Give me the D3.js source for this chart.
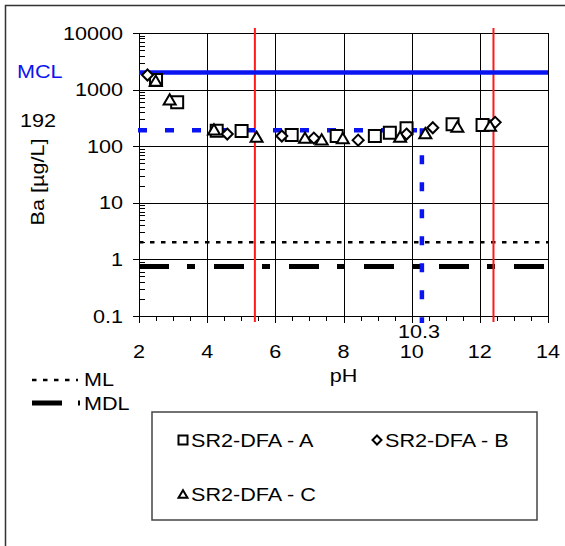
<!DOCTYPE html>
<html><head><meta charset="utf-8">
<script src="https://cdn.jsdelivr.net/npm/d3@7"></script>
<style>body{margin:0;background:#fff}svg{display:block}</style>
</head><body>
<svg id="c" width="565" height="546"></svg>
<script>
// ---- data ----
const phA = [2.5, 3.12, 4.28, 5.01, 6.48, 7.8, 8.92, 9.36, 9.85, 11.2, 12.08];
const baA = [1480, 600, 188, 185, 158, 151, 151, 173, 207, 244, 237];
const phB = [2.25, 4.59, 6.19, 7.13, 8.43, 9.85, 10.62, 12.45];
const baB = [1810, 164, 151, 139, 128, 164, 212, 264];
const phC = [2.49, 2.9, 4.2, 5.45, 6.87, 7.36, 7.98, 9.66, 10.4, 11.34, 12.3];
const baC = [1436, 674, 199, 147, 141, 132, 139, 148, 170, 221, 230];
const seriesNames = ["SR2-DFA - A", "SR2-DFA - B", "SR2-DFA - C"];
const MCL = 2000, ML = 2, MDL = 0.75, target = 192, targetPH = 10.3;
const redLinesPH = [5.4, 12.4];
const xTicks = [2, 4, 6, 8, 10, 12, 14];
const yTicks = [0.1, 1, 10, 100, 1000, 10000];
const yTickLabels = ["0.1", "1", "10", "100", "1000", "10000"];

// ---- drawing ----
const svg = d3.select("#c");
const x = d3.scaleLinear().domain([2, 14]).range([139, 548]);
const y = d3.scaleLog().domain([0.1, 10000]).range([316, 33]);
const FONT = "'Liberation Sans', Arial, sans-serif";
const SX = 1.2;

function txt(g, s, tx, ty, opt = {}) {
  return g.append("text")
    .attr("transform", `translate(${tx},${ty})${opt.rot ? ` rotate(${opt.rot})` : ""} scale(${SX},1)`)
    .attr("font-family", FONT).attr("font-size", opt.size || 18)
    .attr("fill", opt.fill || "#000")
    .attr("text-anchor", opt.anchor || "start")
    .text(s);
}

// outer frame
svg.append("rect").attr("x", 5.5).attr("y", 5.5).attr("width", 700).attr("height", 700)
  .attr("fill", "none").attr("stroke", "#333").attr("stroke-width", 1.5);

const x0 = x.range()[0], x1 = x.range()[1], yT = y.range()[1], yB = y.range()[0];

// gridlines
const grid = svg.append("g").attr("stroke", "#000").attr("stroke-width", 1);
xTicks.slice(1, -1).forEach(v => grid.append("line")
  .attr("x1", Math.round(x(v)) + 0.5).attr("x2", Math.round(x(v)) + 0.5).attr("y1", yT).attr("y2", yB));
yTicks.slice(1, -1).forEach(v => grid.append("line")
  .attr("x1", x0).attr("x2", x1).attr("y1", Math.round(y(v)) + 0.5).attr("y2", Math.round(y(v)) + 0.5));

// plot border
svg.append("rect").attr("x", x0 + 0.5).attr("y", yT + 0.5).attr("width", x1 - x0).attr("height", yB - yT)
  .attr("fill", "none").attr("stroke", "#000").attr("stroke-width", 1);

// y ticks: major outside, minor inside
const ax = svg.append("g").attr("stroke", "#000").attr("stroke-width", 1);
yTicks.forEach(v => ax.append("line").attr("x1", x0 - 6).attr("x2", x0)
  .attr("y1", Math.round(y(v)) + 0.5).attr("y2", Math.round(y(v)) + 0.5));
yTicks.slice(0, -1).forEach(v => {
  for (let m = 2; m <= 9; m++) {
    const yy = Math.round(y(v * m)) + 0.5;
    ax.append("line").attr("x1", x0).attr("x2", x0 + 6).attr("y1", yy).attr("y2", yy);
  }
});
// x ticks
d3.range(2, 14.01, 0.5).forEach(v => {
  const xx = Math.round(x(v)) + 0.5;
  const major = Math.abs(v - Math.round(v)) < 1e-6 && Math.round(v) % 2 === 0;
  ax.append("line").attr("x1", xx).attr("x2", xx).attr("y1", yB).attr("y2", yB + (major ? 7 : 5));
});

// tick labels
yTicks.forEach((v, i) => txt(svg, yTickLabels[i], 123, y(v) + 6.5, { anchor: "end" }));
xTicks.forEach(v => txt(svg, String(v), x(v), 358, { anchor: "middle" }));

// axis titles
txt(svg, "pH", x(8), 382, { anchor: "middle" });
txt(svg, "Ba [µg/L]", 44, 182, { anchor: "middle", rot: -90 });

// ML / MDL lines
svg.append("line").attr("x1", x0).attr("x2", x1).attr("y1", y(ML)).attr("y2", y(ML))
  .attr("stroke", "#000").attr("stroke-width", 2.5).attr("stroke-dasharray", "4.5,6.5");
svg.append("line").attr("x1", x0).attr("x2", x1).attr("y1", y(MDL)).attr("y2", y(MDL))
  .attr("stroke", "#000").attr("stroke-width", 5).attr("stroke-dasharray", "30,18,8,19");

// red vertical lines
redLinesPH.forEach(v => svg.append("line").attr("x1", x(v)).attr("x2", x(v))
  .attr("y1", yT - 5).attr("y2", yB + 6).attr("stroke", "#ff1a1a").attr("stroke-width", 2));

// MCL line
svg.append("line").attr("x1", x0).attr("x2", x1).attr("y1", y(MCL)).attr("y2", y(MCL))
  .attr("stroke", "#0a14f0").attr("stroke-width", 4.5);
// target dashed
svg.append("line").attr("x1", x0 - 1).attr("x2", x(targetPH)).attr("y1", y(target)).attr("y2", y(target))
  .attr("stroke", "#0a14f0").attr("stroke-width", 4.5).attr("stroke-dasharray", "9,18");
svg.append("line").attr("x1", x(targetPH)).attr("x2", x(targetPH)).attr("y1", y(target) - 2).attr("y2", yB + 7)
  .attr("stroke", "#0a14f0").attr("stroke-width", 4.5).attr("stroke-dasharray", "9,18");

// annotation texts
txt(svg, "MCL", 17, 78, { fill: "#0a14f0" });
txt(svg, "192", 20, 127);
txt(svg, "10.3", x(targetPH) - 3, 338, { anchor: "middle" });

// markers
function shapePath(kind, s) {
  const h = s / 2;
  if (kind === 0) return `M${-h},${-h}H${h}V${h}H${-h}Z`;
  if (kind === 1) return `M0,${-h}L${h},0L0,${h}L${-h},0Z`;
  const th = s * 0.85;
  return `M0,${-th / 2}L${h},${th / 2}L${-h},${th / 2}Z`;
}
const series = [[phA, baA], [phB, baB], [phC, baC]];
const sizes = [12, 11, 12];
series.forEach(([px, pv], k) => {
  const g = svg.append("g");
  g.selectAll("path").data(px.map((p, i) => ({ p, v: pv[i] }))).join("path")
    .attr("d", shapePath(k, sizes[k]))
    .attr("transform", d => `translate(${x(d.p)},${y(d.v)})`)
    .attr("fill", "#fff").attr("stroke", "#000").attr("stroke-width", 2);
});

// ML / MDL legend
svg.append("line").attr("x1", 32).attr("x2", 78).attr("y1", 380).attr("y2", 380)
  .attr("stroke", "#000").attr("stroke-width", 2.5).attr("stroke-dasharray", "4.5,6.5");
txt(svg, "ML", 84, 386);
svg.append("line").attr("x1", 32).attr("x2", 80).attr("y1", 403).attr("y2", 403)
  .attr("stroke", "#000").attr("stroke-width", 5).attr("stroke-dasharray", "30,16,2,20");
txt(svg, "MDL", 84, 410);

// series legend
svg.append("rect").attr("x", 152).attr("y", 412).attr("width", 385).attr("height", 108)
  .attr("fill", "#fff").attr("stroke", "#444").attr("stroke-width", 1.5);
const legPos = [[183, 440], [377, 440], [183, 494]];
seriesNames.forEach((n, k) => {
  const [lx, ly] = legPos[k];
  svg.append("path").attr("d", shapePath(k, 9)).attr("transform", `translate(${lx},${ly})`)
    .attr("fill", "#fff").attr("stroke", "#000").attr("stroke-width", 2);
  txt(svg, n, lx + 8, ly + 7);
});
</script>
</body></html>
